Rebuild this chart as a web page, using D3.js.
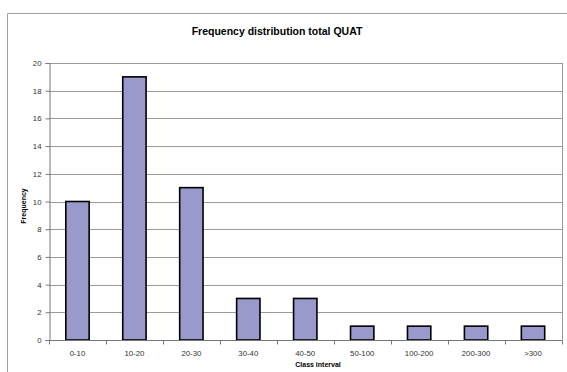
<!DOCTYPE html>
<html>
<head>
<meta charset="utf-8">
<script src="https://cdn.jsdelivr.net/npm/d3@7"></script>
<style>
body { margin: 0; background: #fff; }
svg text { font-family: Arial, "Liberation Sans", sans-serif; }
</style>
</head>
<body>
<div id="chart"></div>
<script>
var classes = ["0-10", "10-20", "20-30", "30-40", "40-50", "50-100", "100-200", "200-300", ">300"];
var frequency = [10, 19, 11, 3, 3, 1, 1, 1, 1];
var yTicks = [0, 2, 4, 6, 8, 10, 12, 14, 16, 18, 20];

var width = 567, height = 372;
var margin = { top: 63, right: 5, bottom: 32, left: 49 };

var svg = d3.select("#chart").append("svg")
    .attr("width", width)
    .attr("height", height);

// outer chart frame
svg.append("path")
    .attr("d", "M7.5," + height + "V13.5H" + width)
    .attr("fill", "none")
    .attr("stroke", "#a0a0a0")
    .attr("stroke-width", 1);

var x = d3.scaleBand().domain(classes)
    .range([margin.left, width - margin.right - 0.5])
    .paddingInner(0.59).paddingOuter(0.295);
var y = d3.scaleLinear().domain([0, 20])
    .range([height - margin.bottom, margin.top]);

// gridlines
svg.append("g").selectAll("line")
    .data(yTicks.slice(1))
    .enter().append("line")
    .attr("x1", margin.left)
    .attr("x2", width - margin.right)
    .attr("y1", function (d) { return Math.round(y(d)) + 0.5; })
    .attr("y2", function (d) { return Math.round(y(d)) + 0.5; })
    .attr("stroke", "#9a9a9a");

// right border of plot area
svg.append("line")
    .attr("x1", width - margin.right + 0.5).attr("x2", width - margin.right + 0.5)
    .attr("y1", y(20)).attr("y2", y(0))
    .attr("stroke", "#9a9a9a");

// bars
svg.append("g").selectAll("rect")
    .data(frequency)
    .enter().append("rect")
    .attr("x", function (d, i) { return x(classes[i]); })
    .attr("y", function (d) { return y(d); })
    .attr("width", x.bandwidth())
    .attr("height", function (d) { return y(0) - y(d); })
    .attr("fill", "#9999cc")
    .attr("stroke", "#000")
    .attr("stroke-width", 1.6);

// y axis
var yAxis = svg.append("g")
    .attr("transform", "translate(" + (margin.left + 0.5) + ",0)")
    .call(d3.axisLeft(y).tickValues(yTicks).tickSize(4).tickPadding(4));
yAxis.select(".domain").attr("stroke", "#777");
yAxis.selectAll(".tick line").attr("stroke", "#777");
yAxis.selectAll("text").attr("font-size", 7.8).attr("fill", "#333")
    .attr("font-family", "Arial, 'Liberation Sans', sans-serif");

// x axis with ticks between classes
var step = x.step();
var xAxisG = svg.append("g")
    .attr("transform", "translate(0," + (Math.round(y(0)) + 0.5) + ")");
xAxisG.append("line")
    .attr("x1", margin.left).attr("x2", width - margin.right + 0.5)
    .attr("stroke", "#777");
xAxisG.selectAll(".sep")
    .data(d3.range(classes.length + 1))
    .enter().append("line")
    .attr("x1", function (i) { return Math.round(margin.left + i * step) + 0.5; })
    .attr("x2", function (i) { return Math.round(margin.left + i * step) + 0.5; })
    .attr("y1", 0).attr("y2", 4)
    .attr("stroke", "#777");
xAxisG.selectAll("text")
    .data(classes)
    .enter().append("text")
    .attr("x", function (d) { return x(d) + x.bandwidth() / 2; })
    .attr("y", 15)
    .attr("text-anchor", "middle")
    .attr("font-size", 7.8)
    .attr("fill", "#333")
    .text(function (d) { return d; });

// title
svg.append("text")
    .attr("x", 277).attr("y", 35)
    .attr("text-anchor", "middle")
    .attr("font-size", 10.5)
    .attr("font-weight", "bold")
    .text("Frequency distribution total QUAT");

// axis titles
svg.append("text")
    .attr("x", 318).attr("y", 367)
    .attr("text-anchor", "middle")
    .attr("font-size", 7)
    .attr("font-weight", "bold")
    .text("Class interval");

svg.append("text")
    .attr("transform", "translate(26,206) rotate(-90)")
    .attr("text-anchor", "middle")
    .attr("font-size", 7)
    .attr("font-weight", "bold")
    .text("Frequency");
</script>
</body>
</html>
